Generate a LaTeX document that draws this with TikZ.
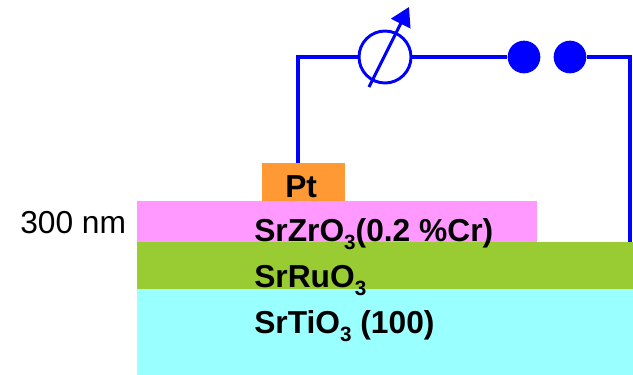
\documentclass[tikz,border=0pt]{standalone}
\usepackage{fontspec}
\setmainfont{Liberation Sans}
\usetikzlibrary{arrows.meta}
\definecolor{wire}{RGB}{0,0,255}
\definecolor{ptc}{RGB}{255,153,51}
\definecolor{zrc}{RGB}{255,153,255}
\definecolor{ruc}{RGB}{153,204,51}
\definecolor{tic}{RGB}{153,255,255}
\newcommand{\lowsub}[1]{\raisebox{-0.27em}{\fontsize{15.5}{16}\selectfont #1}}
\tikzset{
  layerbox/.style={draw=none,inner sep=0pt,outer sep=0pt,minimum height=#1},
  wireline/.style={draw=wire,line width=2.4pt},
  contact/.style={circle,fill=wire,draw=none,inner sep=0pt,minimum size=24.5pt},
  meter/.style={circle,draw=wire,line width=2.2pt,fill=white,inner sep=0pt,minimum size=39pt},
  boldlabel/.style={font=\fontsize{23.8}{26}\selectfont\bfseries,inner sep=0pt,anchor=base west,text=black},
}
\begin{document}
\begin{tikzpicture}[x=0.75pt,y=-0.75pt]
\useasboundingbox (0,0) rectangle (633,375);
% layers
\node[layerbox=64.5pt,fill=tic,minimum width=372pt,anchor=north west] (sto) at (137,289) {};
\node[layerbox=35.25pt,fill=ruc,minimum width=372pt,anchor=north west] (sro) at (137,242) {};
\node[layerbox=30.75pt,fill=zrc,minimum width=300pt,anchor=north west] (szo) at (137,201) {};
\node[layerbox=28.5pt,fill=ptc,minimum width=62.25pt,anchor=north west] (pt) at (262,163) {};
% circuit
\coordinate (tl) at (298,57);
\coordinate (tr) at (630,57);
\coordinate (rb) at (630,242);
\coordinate (lb) at (298,163);
\node[meter] (m) at (385,57) {};
\node[contact] (c1) at (524,57) {};
\node[contact] (c2) at (570,57) {};
\draw[wireline] (lb) -- (tl) -- (m.west);
\draw[wireline] (m.east) -- (c1.west);
\draw[wireline] (c2.east) -- (tr) -- (rb);
\coordinate (as) at (369,87);
\coordinate (ae) at (409,7);
\draw[draw=wire,line width=2.2pt,-{Triangle[length=14pt,width=16pt]}] (as) -- (ae);
% texts
\node[boldlabel] (tpt) at (285,197) {Pt};
\node[boldlabel] (tzr) at (254,241) {SrZrO\lowsub{3}(0.2 \%Cr)};
\node[boldlabel] (tru) at (254,287) {SrRuO\lowsub{3}};
\node[boldlabel] (tti) at (254,333) {SrTiO\lowsub{3} (100)};
\node[font=\fontsize{23.8}{26}\selectfont,inner sep=0pt,anchor=base west] (tnm) at (20,233) {300 nm};
\end{tikzpicture}
\end{document}
